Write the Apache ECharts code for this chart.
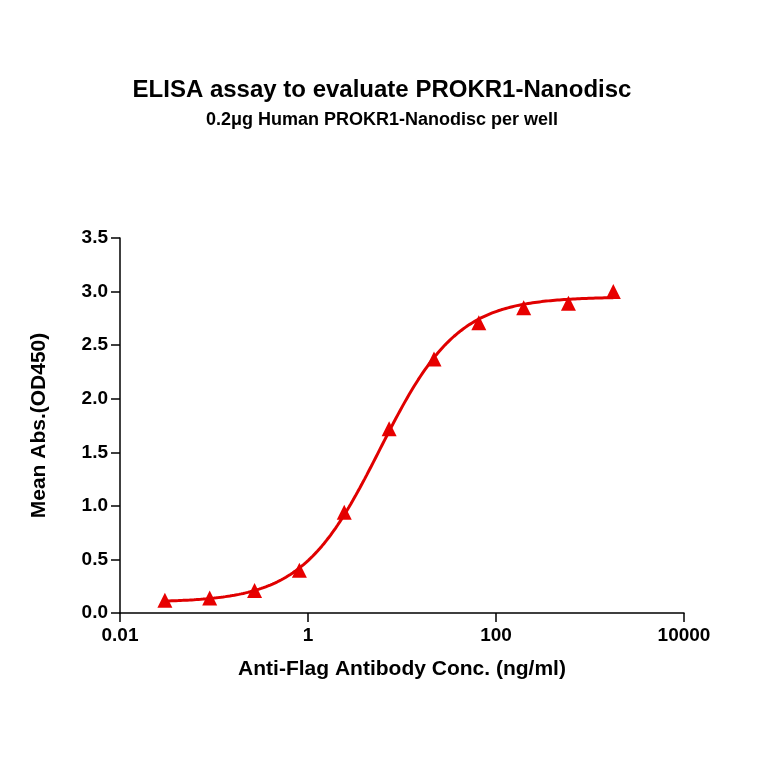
<!DOCTYPE html>
<html><head><meta charset="utf-8">
<script src="https://cdn.jsdelivr.net/npm/echarts@6/dist/echarts.min.js"></script>
<style>html,body{margin:0;background:#fff}#c{width:764px;height:764px}</style>
</head><body><div id="c"></div>
<script>
const conc = [0.030, 0.090, 0.27, 0.81, 2.43, 7.3, 21.9, 65.6, 197, 590, 1770];
const od = [0.12, 0.14, 0.21, 0.40, 0.94, 1.72, 2.37, 2.71, 2.85, 2.89, 3.00];
const xTicks = ['0.01', '1', '100', '10000'];
// 4PL fit parameters
const fitBottom = 0.1, fitTop = 2.95, fitEC50 = 5.8, fitHill = 1.05;
const curve = [];
for (let i = 0; i <= 200; i++) {
  const lx = Math.log10(0.03) + i * (Math.log10(1770) - Math.log10(0.03)) / 200;
  const x = Math.pow(10, lx);
  curve.push([x, fitBottom + (fitTop - fitBottom) / (1 + Math.pow(fitEC50 / x, fitHill))]);
}
const chart = echarts.init(document.getElementById('c'));
const F = 'Arial, Liberation Sans, sans-serif';
chart.setOption({
  animation: false,
  title: [
    {text: 'ELISA assay to evaluate PROKR1-Nanodisc', left: 'center', top: 73, textStyle: {fontFamily: F, fontSize: 24, fontWeight: 'bold', color: '#000'}},
    {text: '0.2μg Human PROKR1-Nanodisc per well', left: 'center', top: 106, textStyle: {fontFamily: F, fontSize: 18, fontWeight: 'bold', color: '#000'}}
  ],
  grid: {left: 120, right: 80, top: 238, bottom: 151},
  xAxis: {
    type: 'log', logBase: 100, min: 0.01, max: 10000,
    name: 'Anti-Flag Antibody Conc. (ng/ml)', nameLocation: 'middle', nameGap: 46,
    nameTextStyle: {fontFamily: F, fontSize: 21, fontWeight: 'bold', color: '#000'},
    axisLine: {lineStyle: {color: '#000', width: 1.5}},
    axisTick: {show: true, length: 9, lineStyle: {color: '#000', width: 1.5}},
    splitLine: {show: false}, minorTick: {show: false},
    axisLabel: {fontFamily: F, fontSize: 19, fontWeight: 'bold', color: '#000', margin: 13,
      formatter: v => String(+(+v).toPrecision(6))}
  },
  yAxis: {
    type: 'value', min: 0, max: 3.5, interval: 0.5,
    name: 'Mean Abs.(OD450)', nameLocation: 'middle', nameGap: 70,
    nameTextStyle: {fontFamily: F, fontSize: 21, fontWeight: 'bold', color: '#000'},
    axisLine: {show: true, lineStyle: {color: '#000', width: 1.5}},
    axisTick: {show: true, length: 9, lineStyle: {color: '#000', width: 1.5}},
    splitLine: {show: false},
    axisLabel: {fontFamily: F, fontSize: 19, fontWeight: 'bold', color: '#000', margin: 12, formatter: v => v.toFixed(1)}
  },
  series: [
    {type: 'line', data: curve, showSymbol: false, smooth: false, lineStyle: {color: '#e00000', width: 3}},
    {type: 'scatter', data: conc.map((c, i) => [c, od[i]]), symbol: 'triangle', symbolSize: 15, itemStyle: {color: '#e80000', opacity: 1}}
  ]
});
</script></body></html>
